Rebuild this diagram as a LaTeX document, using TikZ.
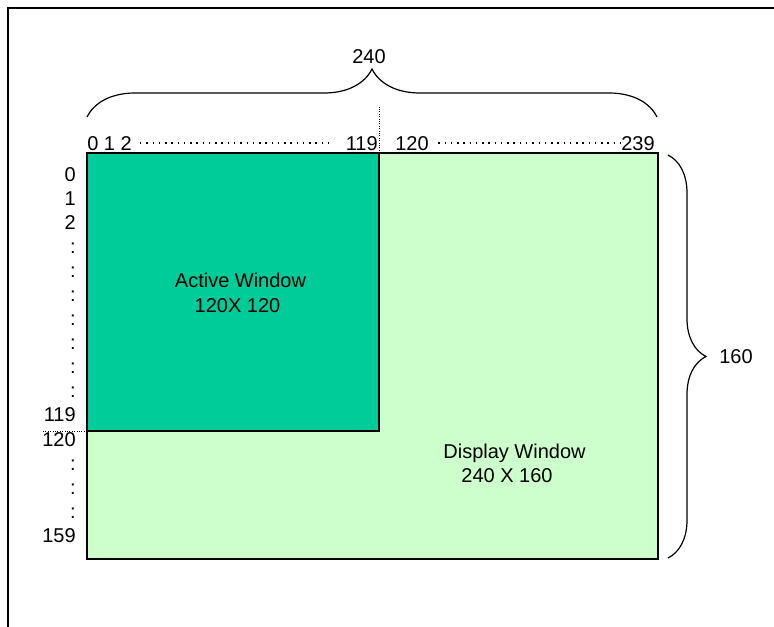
\documentclass[tikz,border=0pt]{standalone}
\usepackage{fontspec}
\setmainfont{Liberation Sans}
\usetikzlibrary{decorations.pathreplacing}
\definecolor{activegreen}{RGB}{0,204,153}
\definecolor{displaygreen}{RGB}{204,255,204}
\tikzset{
  lbl/.style={font=\fontsize{15}{18}\selectfont, inner sep=0pt},
  dotrow/.style={line width=1.1pt, dash pattern=on 1.1pt off 3.6pt},
  finedots/.style={line width=0.6pt, dash pattern=on 0.6pt off 1.2pt},
  curlybrace/.style={decorate, decoration={brace, amplitude=#1}, line width=0.9pt},
}
\begin{document}
\begin{tikzpicture}[x=0.75pt, y=-0.75pt]
    \useasboundingbox (0,0) rectangle (774,626);
    \draw[line width=1pt] (8,640) -- (8,8) -- (790,8);

    \coordinate (dispNW) at (87,153);
    \coordinate (dispSE) at (658,559);
    \coordinate (actNE) at (379,153);
    \coordinate (actSW) at (87,431);
    \coordinate (actSE) at (379,431);

    \filldraw[fill=displaygreen, line width=1.1pt] (dispNW) rectangle (dispSE);
    \filldraw[fill=activegreen, line width=1.1pt] (dispNW) rectangle (actSE);

    % braces
    \draw[curlybrace=36pt] (87,117) -- (657,117);
    \draw[curlybrace=28.5pt] (668,155) -- (668,558);
    \node[lbl, anchor=base] (w240) at (369,63) {240};
    \node[lbl, anchor=base west] (h160) at (719,363) {160};

    % column numbers
    \node[lbl, anchor=base west] (col012) at (87,150) {0 1 2};
    \node[lbl, anchor=base east] (col119) at (378,150) {119};
    \node[lbl, anchor=base west] (col120) at (395,150) {120};
    \node[lbl, anchor=base east] (col239) at (655,150) {239};
    \draw[dotrow] ([xshift=6pt]col012.east) -- ([xshift=-12pt]col119.west);
    \draw[dotrow] ([xshift=7pt]col120.east) -- (col239.west);

    % row numbers
    \foreach \txt [count=\k from 0] in {0,1,2,:,:,:,:,:,:,:,119}
        \node[lbl, anchor=base east] (row\k) at (76,{181+24*\k}) {\txt};
    \foreach \txt [count=\k from 0] in {120,:,:,:,159}
        \node[lbl, anchor=base east] (lowrow\k) at (76,{446+24*\k}) {\txt};

    \draw[finedots] (actNE) -- ++(0,-46);
    \draw[finedots] (actSW) -- ++(-45,0);

    \node[lbl, anchor=base] (actname) at (240.5,287) {Active Window};
    \node[lbl, anchor=base] (actsize) at (237.5,312) {120X 120};
    \node[lbl, anchor=base] (dispname) at (514.5,458) {Display Window};
    \node[lbl, anchor=base] (dispsize) at (507,482) {240 X 160};
\end{tikzpicture}
\end{document}
